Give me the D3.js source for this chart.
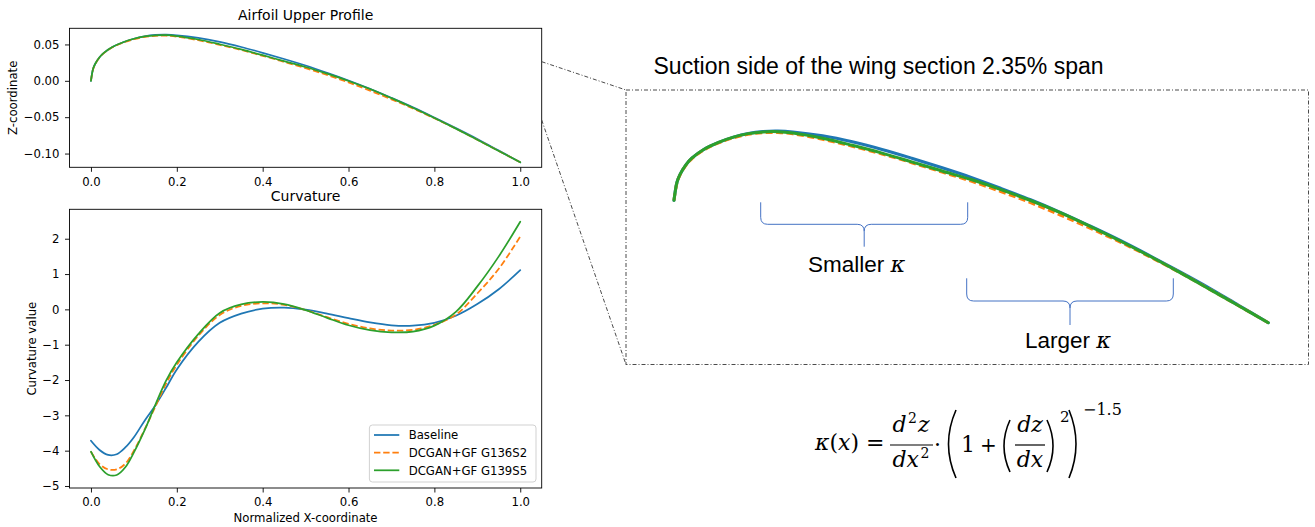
<!DOCTYPE html>
<html>
<head>
<meta charset="utf-8">
<script src="https://cdn.jsdelivr.net/npm/d3@7"></script>
<style>
  body { margin: 0; background: #fff; }
  svg { display: block; }
</style>
</head>
<body>
<svg id="fig" width="1315" height="527"></svg>
<script>
// ---------- data ----------
const seriesNames = ["Baseline", "DCGAN+GF G136S2", "DCGAN+GF G139S5"];
const seriesColors = ["#1f77b4", "#ff7f0e", "#2ca02c"];
const seriesDashed = [false, true, false];

// upper surface profile z(x)
const profileX = [0, 0.005, 0.01, 0.02, 0.03, 0.05, 0.075, 0.1, 0.125, 0.15, 0.175, 0.2,
  0.25, 0.3, 0.35, 0.4, 0.45, 0.5, 0.55, 0.6, 0.65, 0.7, 0.75, 0.8, 0.85, 0.9, 0.95, 1.0];
const profileBaseline = [0, 0.0165, 0.0235, 0.0325, 0.0385, 0.0465, 0.0530, 0.0578, 0.0612, 0.0630, 0.0634, 0.0626,
  0.0590, 0.0535, 0.0465, 0.0385, 0.0300, 0.0210, 0.0110, 0.0005, -0.0110, -0.0235, -0.0365, -0.0505, -0.0650, -0.0800, -0.0960, -0.1120];
const profileG136S2 = [0, 0.0160, 0.0230, 0.0320, 0.0380, 0.0460, 0.0525, 0.0572, 0.0604, 0.0619, 0.0620, 0.0608,
  0.0558, 0.0494, 0.0424, 0.0344, 0.0260, 0.0175, 0.0080, -0.0022, -0.0135, -0.0255, -0.0380, -0.0515, -0.0658, -0.0810, -0.0965, -0.1120];
const profileG139S5 = [0, 0.0165, 0.0235, 0.0325, 0.0385, 0.0465, 0.0530, 0.0578, 0.0610, 0.0626, 0.0628, 0.0616,
  0.0568, 0.0503, 0.0432, 0.0352, 0.0270, 0.0190, 0.0098, -0.0002, -0.0113, -0.0238, -0.0370, -0.0510, -0.0657, -0.0810, -0.0965, -0.1120];

// curvature kappa(x)
const curvX = [0, 0.02, 0.04, 0.06, 0.08, 0.1, 0.125, 0.15, 0.175, 0.2, 0.25, 0.3, 0.35, 0.4,
  0.45, 0.5, 0.55, 0.6, 0.65, 0.7, 0.75, 0.8, 0.85, 0.9, 0.95, 1.0];
const curvBaseline = [-3.72, -3.98, -4.12, -4.10, -3.91, -3.62, -3.15, -2.72, -2.22, -1.70, -0.92, -0.38, -0.12, 0.02,
  0.05, -0.01, -0.12, -0.25, -0.37, -0.45, -0.46, -0.38, -0.18, 0.15, 0.57, 1.11];
const curvG136S2 = [-4.03, -4.38, -4.53, -4.53, -4.37, -4.00, -3.40, -2.75, -2.10, -1.57, -0.75, -0.16, 0.10, 0.17,
  0.13, -0.02, -0.22, -0.41, -0.54, -0.60, -0.58, -0.44, -0.15, 0.45, 1.15, 2.06];
const curvG139S5 = [-4.03, -4.45, -4.68, -4.69, -4.47, -4.05, -3.42, -2.70, -2.02, -1.50, -0.70, -0.10, 0.14, 0.21,
  0.15, -0.02, -0.24, -0.45, -0.59, -0.65, -0.63, -0.46, -0.07, 0.65, 1.50, 2.48];

const xTicks = [0, 0.2, 0.4, 0.6, 0.8, 1.0];
const profileTicks = [0.05, 0, -0.05, -0.10];
const curvTicks = [2, 1, 0, -1, -2, -3, -4, -5];

const profiles = [profileBaseline, profileG136S2, profileG139S5];
const curvatures = [curvBaseline, curvG136S2, curvG139S5];

// ---------- setup ----------
const svg = d3.select("#fig");
svg.append("rect").attr("width", 1315).attr("height", 527).attr("fill", "#fff");

const MPL_FONT = "DejaVu Sans";
const TICK_FS = 11.7;

function styleAxis(g) {
  g.select(".domain").remove();
  g.selectAll(".tick line").attr("stroke", "#000").attr("stroke-width", 0.9);
  g.selectAll(".tick text").attr("fill", "#000")
    .attr("font-family", MPL_FONT).attr("font-size", TICK_FS);
}

function panel(cfg) {
  const { left, right, top, bottom, xDomain, yDomain, yTicks, yFmt, title, ylabel, ylabelX, xlabel } = cfg;
  const x = d3.scaleLinear(xDomain, [left, right]);
  const y = d3.scaleLinear(yDomain, [bottom, top]);
  const g = svg.append("g");

  const gx = g.append("g").attr("transform", `translate(0,${bottom})`)
    .call(d3.axisBottom(x).tickValues(xTicks).tickFormat(d3.format(".1f"))
      .tickSize(4.5).tickPadding(5.5).tickSizeOuter(0));
  styleAxis(gx);
  const gy = g.append("g").attr("transform", `translate(${left},0)`)
    .call(d3.axisLeft(y).tickValues(yTicks).tickFormat(d3.format(yFmt))
      .tickSize(4.5).tickPadding(5.5).tickSizeOuter(0));
  styleAxis(gy);

  g.append("text").attr("x", (left + right) / 2).attr("y", top - 8)
    .attr("text-anchor", "middle").attr("font-family", MPL_FONT).attr("font-size", 14)
    .text(title);
  g.append("text").attr("transform", `translate(${ylabelX},${(top + bottom) / 2}) rotate(-90)`)
    .attr("text-anchor", "middle").attr("font-family", MPL_FONT).attr("font-size", TICK_FS)
    .text(ylabel);
  if (xlabel) {
    g.append("text").attr("x", (left + right) / 2).attr("y", bottom + 34)
      .attr("text-anchor", "middle").attr("font-family", MPL_FONT).attr("font-size", TICK_FS)
      .text(xlabel);
  }
  return { g, x, y, left, right, top, bottom };
}

function drawSeries(p, xs, ysList, widths, dash) {
  const line = d3.line().x((d, i) => p.x(xs[i])).y(d => p.y(d))
    .curve(d3.curveCatmullRom.alpha(0.5));
  ysList.forEach((ys, k) => {
    p.g.append("path").datum(ys).attr("d", line)
      .attr("fill", "none").attr("stroke", seriesColors[k])
      .attr("stroke-width", widths)
      .attr("stroke-linejoin", "round").attr("stroke-linecap", seriesDashed[k] ? "butt" : "round")
      .attr("stroke-dasharray", seriesDashed[k] ? dash : null);
  });
}

function frame(p) {
  p.g.append("rect").attr("x", p.left).attr("y", p.top)
    .attr("width", p.right - p.left).attr("height", p.bottom - p.top)
    .attr("fill", "none").attr("stroke", "#000").attr("stroke-width", 0.9);
}

// ---------- upper profile ----------
const pTop = panel({
  left: 69.5, right: 541.7, top: 28.3, bottom: 167.3,
  xDomain: [-0.05, 1.05], yDomain: [-0.1189, 0.0722],
  yTicks: profileTicks, yFmt: ".2f",
  title: "Airfoil Upper Profile", ylabel: "Z-coordinate", ylabelX: 17
});
drawSeries(pTop, profileX, profiles, 1.75, "6.4,2.8");
frame(pTop);

// ---------- curvature ----------
const pBot = panel({
  left: 69.5, right: 541.7, top: 209.3, bottom: 488,
  xDomain: [-0.05, 1.05], yDomain: [-5.057, 2.833],
  yTicks: curvTicks, yFmt: "d",
  title: "Curvature", ylabel: "Curvature value", ylabelX: 35.5,
  xlabel: "Normalized X-coordinate"
});
drawSeries(pBot, curvX, curvatures, 1.75, "6.4,2.8");
frame(pBot);

// legend
const leg = pBot.g.append("g");
leg.append("rect").attr("x", 369.4).attr("y", 425).attr("width", 166.6).attr("height", 57)
  .attr("rx", 3).attr("fill", "#fff").attr("fill-opacity", 0.8)
  .attr("stroke", "#cccccc").attr("stroke-width", 0.9);
seriesNames.forEach((name, k) => {
  const yy = 435 + k * 17.65;
  leg.append("line").attr("x1", 374).attr("x2", 399.3).attr("y1", yy).attr("y2", yy)
    .attr("stroke", seriesColors[k]).attr("stroke-width", 1.75)
    .attr("stroke-dasharray", seriesDashed[k] ? "6.4,2.8" : null);
  leg.append("text").attr("x", 408.7).attr("y", yy + 4.2)
    .attr("font-family", MPL_FONT).attr("font-size", TICK_FS).text(name);
});

// ---------- zoomed suction side ----------
const zoomStroke = { stroke: "#4a4a4a", width: 1, dash: "4,2,1,2" };
const zoomBox = { x0: 626, y0: 90, x1: 1308.5, y1: 364.5 };

svg.append("rect").attr("x", zoomBox.x0).attr("y", zoomBox.y0)
  .attr("width", zoomBox.x1 - zoomBox.x0).attr("height", zoomBox.y1 - zoomBox.y0)
  .attr("fill", "none").attr("stroke", zoomStroke.stroke)
  .attr("stroke-width", zoomStroke.width).attr("stroke-dasharray", zoomStroke.dash);
[[61.7, zoomBox.y0], [120, zoomBox.y1]].forEach(([ya, yb]) => {
  svg.append("line").attr("x1", 541.7).attr("y1", ya).attr("x2", zoomBox.x0).attr("y2", yb)
    .attr("stroke", zoomStroke.stroke).attr("stroke-width", zoomStroke.width)
    .attr("stroke-dasharray", zoomStroke.dash);
});

svg.append("text").attr("x", 653.5).attr("y", 74.3)
  .attr("font-family", "Liberation Sans, Arial, sans-serif").attr("font-size", 23)
  .attr("fill", "#000").text("Suction side of the wing section 2.35% span");

const zx = d3.scaleLinear([0, 1], [674, 1268.3]);
const zy = d3.scaleLinear([0, -0.112], [200.3, 322.7]);
const zoomLine = d3.line().x((d, i) => zx(profileX[i])).y(d => zy(d))
  .curve(d3.curveCatmullRom.alpha(0.5));
profiles.forEach((ys, k) => {
  svg.append("path").datum(ys).attr("d", zoomLine)
    .attr("fill", "none").attr("stroke", seriesColors[k]).attr("stroke-width", 3)
    .attr("stroke-linecap", seriesDashed[k] ? "butt" : "round")
    .attr("stroke-dasharray", seriesDashed[k] ? "7,3.5" : null);
});

// curly braces marking the two regions
function brace(xl, xr, yTop, yMid, yTip) {
  const xm = (xl + xr) / 2;
  const r = 7;
  const p = d3.path();
  p.moveTo(xl, yTop);
  p.lineTo(xl, yMid - r);
  p.quadraticCurveTo(xl, yMid, xl + r, yMid);
  p.lineTo(xm - r, yMid);
  p.quadraticCurveTo(xm, yMid, xm, yMid + r);
  p.lineTo(xm, yTip);
  p.moveTo(xm, yMid + r);
  p.quadraticCurveTo(xm, yMid, xm + r, yMid);
  p.lineTo(xr - r, yMid);
  p.quadraticCurveTo(xr, yMid, xr, yMid - r);
  p.lineTo(xr, yTop);
  svg.append("path").attr("d", p.toString()).attr("fill", "none")
    .attr("stroke", "#4472c4").attr("stroke-width", 1);
}
brace(760.7, 967.7, 202.3, 224.3, 246.7);
brace(966.7, 1173.3, 278.3, 301, 325);

function braceLabel(cx, y, word) {
  const t = svg.append("text").attr("x", cx).attr("y", y).attr("text-anchor", "middle")
    .attr("font-family", "Liberation Sans, Arial, sans-serif").attr("font-size", 22.5).attr("fill", "#000");
  t.append("tspan").text(word + " ");
  t.append("tspan").attr("font-family", "DejaVu Serif").attr("font-style", "italic").text("κ");
}
braceLabel(856.7, 271.7, "Smaller");
braceLabel(1068, 347.7, "Larger");

// ---------- curvature formula ----------
const MATH = "DejaVu Serif";
const fm = svg.append("g").attr("font-family", MATH).attr("fill", "#000");
const mfs = 22;

function mtext(x, y, anchor, parts, fs) {
  const t = fm.append("text").attr("x", x).attr("y", y).attr("text-anchor", anchor)
    .attr("font-size", fs || mfs);
  parts.forEach(([s, opt]) => {
    const sp = t.append("tspan").text(s);
    if (opt && opt.it) sp.attr("font-style", "italic");
    if (opt && opt.sup) sp.attr("font-size", 14).attr("dy", -9).attr("dx", 1.5);
    if (opt && opt.down) sp.attr("dy", 9).attr("dx", 1);
  });
  return t;
}
function fracBar(x1, x2, y) {
  fm.append("line").attr("x1", x1).attr("x2", x2).attr("y1", y).attr("y2", y)
    .attr("stroke", "#000").attr("stroke-width", 1.2);
}
function paren(xEnd, xMid, yTop, yBot) {
  const ym = (yTop + yBot) / 2;
  fm.append("path")
    .attr("d", `M${xEnd},${yTop} Q${xMid},${ym} ${xEnd},${yBot}`)
    .attr("fill", "none").attr("stroke", "#000").attr("stroke-width", 1.6);
}

mtext(815, 450, "start", [["κ", { it: 1 }], ["("], ["x", { it: 1 }], [")"], [" ="]]);
mtext(911, 431.7, "middle", [["d", { it: 1 }], ["2", { sup: 1 }], ["z", { it: 1, down: 1 }]]);
fracBar(890, 933, 445);
mtext(911, 466.7, "middle", [["dx", { it: 1 }], ["2", { sup: 1 }]]);
mtext(937.5, 452, "middle", [["·"]]);
paren(956, 941, 410, 478);
mtext(968, 452, "middle", [["1"]]);
mtext(988.5, 452, "middle", [["+"]], 20);
paren(1010, 998, 420, 472);
mtext(1030, 431.7, "middle", [["dz", { it: 1 }]]);
fracBar(1015, 1045, 445);
mtext(1030, 466.7, "middle", [["dx", { it: 1 }]]);
paren(1047, 1059, 420, 472);
mtext(1060, 421.7, "start", [["2"]], 15);
paren(1069, 1083, 410, 478);
mtext(1083, 415, "start", [["−1.5"]], 16);
</script>
</body>
</html>
